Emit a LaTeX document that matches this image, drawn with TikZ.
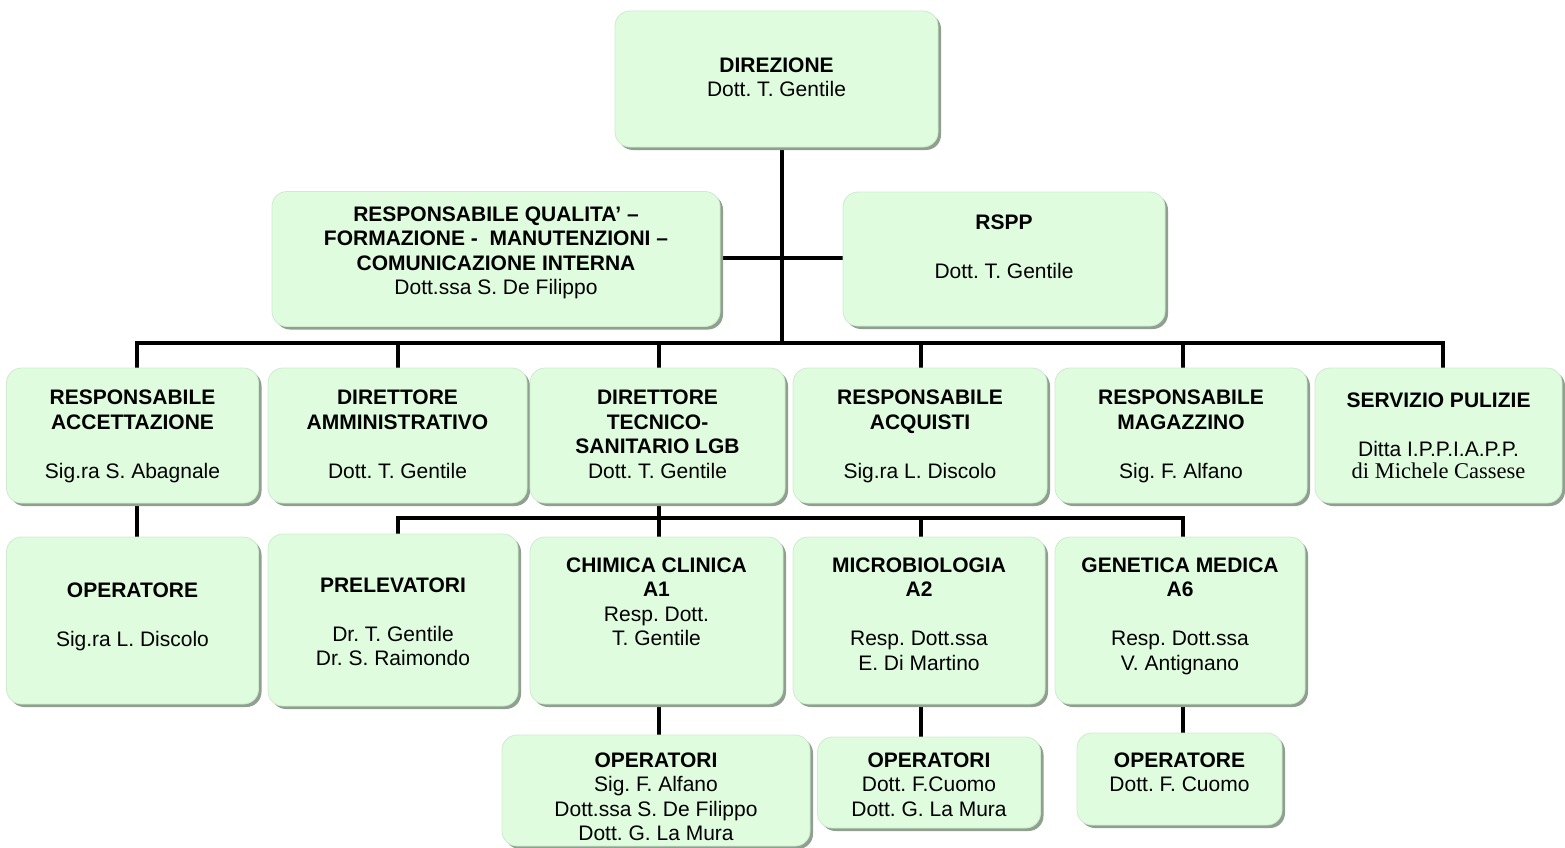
\documentclass[tikz,border=0pt]{standalone}
\usepackage{fontspec}
\setmainfont{Liberation Sans}
\newfontfamily\tms{Liberation Serif}
\usetikzlibrary{shadows,backgrounds}
\definecolor{boxfill}{HTML}{DFFCDF}
\definecolor{boxedge}{HTML}{CFEBCF}
\definecolor{shadowc}{HTML}{8FA08F}
\newcommand\firstln{\rule{0pt}{17pt}}
\frenchspacing
\begin{document}
\begin{tikzpicture}[x=1pt,y=-1pt,
  orgbox/.style={rectangle, rounded corners=15pt, fill=boxfill, draw=boxedge, line width=0.8pt,
    drop shadow={shadow xshift=3pt,shadow yshift=-3pt,fill=shadowc,opacity=1}, inner sep=0pt},
  txt/.style={anchor=north, align=center, inner sep=0pt, font=\fontsize{21}{24.5}\selectfont},
  conn/.style={line width=4.5pt, black}]
\useasboundingbox (0,0) rectangle (1565,848);
% boxes
\node[orgbox, minimum width=323pt, minimum height=136pt] (dir) at (776.5,79) {};
\node[orgbox, minimum width=448pt, minimum height=135pt] (qual) at (496,259) {};
\node[orgbox, minimum width=322pt, minimum height=134pt] (rspp) at (1004,259) {};
\node[orgbox, minimum width=252pt, minimum height=135pt] (acc) at (132.5,435.5) {};
\node[orgbox, minimum width=259pt, minimum height=135pt] (amm) at (397.5,435.5) {};
\node[orgbox, minimum width=255pt, minimum height=135pt] (tec) at (657.5,435.5) {};
\node[orgbox, minimum width=254pt, minimum height=135pt] (acq) at (920,435.5) {};
\node[orgbox, minimum width=252pt, minimum height=135pt] (mag) at (1181,435.5) {};
\node[orgbox, minimum width=247pt, minimum height=135pt] (pul) at (1438.5,435.5) {};
\node[orgbox, minimum width=252pt, minimum height=167pt] (op) at (132.5,620.5) {};
\node[orgbox, minimum width=250pt, minimum height=172pt] (prel) at (393,620) {};
\node[orgbox, minimum width=253pt, minimum height=167pt] (chim) at (656.5,620.5) {};
\node[orgbox, minimum width=252pt, minimum height=167pt] (micro) at (919,620.5) {};
\node[orgbox, minimum width=250pt, minimum height=167pt] (gen) at (1180,620.5) {};
\node[orgbox, minimum width=308pt, minimum height=111pt] (opc) at (656,790.5) {};
\node[orgbox, minimum width=223pt, minimum height=91pt] (opm) at (929,782.5) {};
\node[orgbox, minimum width=205pt, minimum height=92pt] (opg) at (1179.5,779) {};
% texts
\node[txt] (dirT) at (776.5,55) {\firstln\textbf{DIREZIONE}\\Dott. T. Gentile};
\node[txt] (qualT) at (496,204) {\firstln\textbf{RESPONSABILE QUALITA' --}\\\textbf{FORMAZIONE -\ \ MANUTENZIONI --}\\\textbf{COMUNICAZIONE INTERNA}\\Dott.ssa S. De Filippo};
\node[txt] (rsppT) at (1004,212) {\firstln\textbf{RSPP}\\~\\Dott. T. Gentile};
\node[txt] (accT) at (132.5,387.5) {\firstln\textbf{RESPONSABILE}\\\textbf{ACCETTAZIONE}\\~\\Sig.ra S. Abagnale};
\node[txt] (ammT) at (397.5,387.5) {\firstln\textbf{DIRETTORE}\\\textbf{AMMINISTRATIVO}\\~\\Dott. T. Gentile};
\node[txt] (tecT) at (657.5,387.5) {\firstln\textbf{DIRETTORE}\\\textbf{TECNICO-}\\\textbf{SANITARIO LGB}\\Dott. T. Gentile};
\node[txt] (acqT) at (920,387.5) {\firstln\textbf{RESPONSABILE}\\\textbf{ACQUISTI}\\~\\Sig.ra L. Discolo};
\node[txt] (magT) at (1181,387.5) {\firstln\textbf{RESPONSABILE}\\\textbf{MAGAZZINO}\\~\\Sig. F. Alfano};
\node[txt] (pulT) at (1438.5,390) {\firstln\textbf{SERVIZIO PULIZIE}\\~\\Ditta I.P.P.I.A.P.P.\\[-2.5pt]{\tms\fontsize{22.5}{24.5}\selectfont di Michele Cassese}};
\node[txt] (opT) at (132.5,580) {\firstln\textbf{OPERATORE}\\~\\Sig.ra L. Discolo};
\node[txt] (prelT) at (393,575) {\firstln\textbf{PRELEVATORI}\\~\\Dr. T. Gentile\\Dr. S. Raimondo};
\node[txt] (chimT) at (656.5,555) {\firstln\textbf{CHIMICA CLINICA}\\\textbf{A1}\\Resp. Dott.\\T. Gentile};
\node[txt] (microT) at (919,555) {\firstln\textbf{MICROBIOLOGIA}\\\textbf{A2}\\~\\Resp. Dott.ssa\\E. Di Martino};
\node[txt] (genT) at (1180,555) {\firstln\textbf{GENETICA MEDICA}\\\textbf{A6}\\~\\Resp. Dott.ssa\\V. Antignano};
\node[txt] (opcT) at (656,750) {\firstln\textbf{OPERATORI}\\Sig. F. Alfano\\Dott.ssa S. De Filippo\\Dott. G. La Mura};
\node[txt] (opmT) at (929,750) {\firstln\textbf{OPERATORI}\\Dott. F.Cuomo\\Dott. G. La Mura};
\node[txt] (opgT) at (1179.5,750) {\firstln\textbf{OPERATORE}\\Dott. F. Cuomo};
% bus coordinates
\coordinate (bc) at (782,343);
\coordinate (hq) at (782,258);
\coordinate (d1) at (137,343);
\coordinate (d2) at (398,343);
\coordinate (d3) at (659,343);
\coordinate (d4) at (921,343);
\coordinate (d5) at (1183,343);
\coordinate (d6) at (1443,343);
\coordinate (s1) at (398,518);
\coordinate (s2) at (659,518);
\coordinate (s3) at (921,518);
\coordinate (s4) at (1183,518);
\begin{scope}[on background layer]
\draw[conn] (dir.south -| bc) -- (bc);
\draw[conn] (qual.east |- hq) -- (rspp.west |- hq);
\draw[conn] ([xshift=-2.25pt]d1) -- ([xshift=2.25pt]d6);
\draw[conn] (d1) -- (d1 |- acc.north);
\draw[conn] (d2) -- (d2 |- amm.north);
\draw[conn] (d3) -- (d3 |- tec.north);
\draw[conn] (d4) -- (d4 |- acq.north);
\draw[conn] (d5) -- (d5 |- mag.north);
\draw[conn] (d6) -- (d6 |- pul.north);
\draw[conn] (acc.south -| d1) -- (op.north -| d1);
\draw[conn] ([xshift=-2.25pt]s1) -- ([xshift=2.25pt]s4);
\draw[conn] (tec.south -| s2) -- (chim.north -| s2);
\draw[conn] (s1) -- (s1 |- prel.north);
\draw[conn] (s3) -- (s3 |- micro.north);
\draw[conn] (s4) -- (s4 |- gen.north);
\draw[conn] (chim.south -| s2) -- (opc.north -| s2);
\draw[conn] (micro.south -| s3) -- (opm.north -| s3);
\draw[conn] (gen.south -| s4) -- (opg.north -| s4);
\end{scope}
\end{tikzpicture}
\end{document}
